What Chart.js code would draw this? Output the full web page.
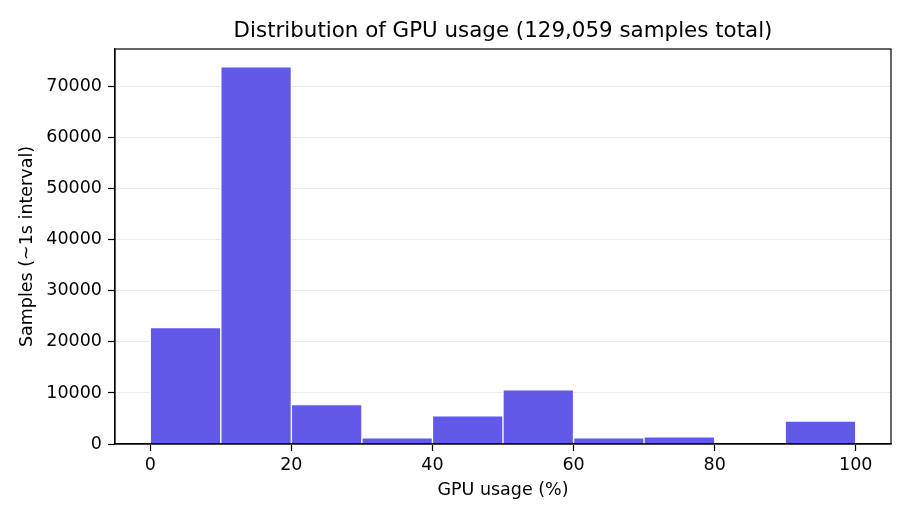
<!DOCTYPE html>
<html>
<head>
<meta charset="utf-8">
<script src="https://cdn.jsdelivr.net/npm/chart.js@4.4.1/dist/chart.umd.min.js"></script>
<style>
  html, body { margin: 0; padding: 0; background: #fff; }
  #wrap { width: 910px; height: 520px; position: relative; }
</style>
</head>
<body>
<div id="wrap"><canvas id="gpuChart"></canvas></div>
<script>
// Histogram data (bin centers, 10% wide bins)
const binCenters = [5, 15, 25, 35, 45, 55, 65, 75, 85, 95];
const sampleCounts = [22800, 73900, 7700, 1200, 5500, 10600, 1200, 1400, 0, 4500];
const yTickValues = [0, 10000, 20000, 30000, 40000, 50000, 60000, 70000];
const xTickValues = [0, 20, 40, 60, 80, 100];
const titleText = 'Distribution of GPU usage (129,059 samples total)';

const font = 'DejaVu Sans';
const labelSize = 17.5;

// draw frame around plot area + the title centred over the axes
const frameAndTitle = {
  id: 'frameAndTitle',
  afterDraw(chart) {
    const { ctx, chartArea } = chart;
    ctx.save();
    ctx.strokeStyle = '#000';
    ctx.lineWidth = 1.2;
    ctx.strokeRect(chartArea.left, chartArea.top, chartArea.right - chartArea.left, chartArea.bottom - chartArea.top);
    ctx.fillStyle = '#000';
    ctx.font = '21.4px "' + font + '"';
    ctx.textAlign = 'center';
    ctx.textBaseline = 'middle';
    ctx.fillText(titleText, (chartArea.left + chartArea.right) / 2, 31.5);
    ctx.restore();
  }
};

const ctx = document.getElementById('gpuChart').getContext('2d');
const gpuChart = new Chart(ctx, {
  type: 'bar',
  data: {
    datasets: [{
      data: binCenters.map((x, i) => ({ x: x, y: sampleCounts[i] })),
      backgroundColor: '#6159e8',
      borderColor: '#ffffff',
      borderWidth: 1,
      barPercentage: 1,
      categoryPercentage: 1,
    }]
  },
  options: {
    responsive: true,
    maintainAspectRatio: false,
    animation: false,
    layout: { padding: { top: 49, right: 19, left: 0, bottom: 0 } },
    plugins: {
      legend: { display: false },
      title: { display: false },
      tooltip: { enabled: false },
    },
    scales: {
      x: {
        type: 'linear',
        offset: false,
        min: -5,
        max: 105,
        afterBuildTicks: (scale) => { scale.ticks = xTickValues.map(v => ({ value: v })); },
        afterFit: (scale) => { scale.height = 76; },
        grid: { offset: false, drawOnChartArea: false, tickColor: '#000', tickLength: 7, tickWidth: 1.2 },
        border: { color: '#000', width: 1.2 },
        ticks: { color: '#000', font: { family: font, size: labelSize }, padding: 4, maxRotation: 0, callback: v => String(v) },
        title: { display: true, text: 'GPU usage (%)', color: '#000', font: { family: font, size: labelSize }, padding: { top: 0, bottom: 19 } },
      },
      y: {
        min: 0,
        max: 77400,
        afterBuildTicks: (scale) => { scale.ticks = yTickValues.map(v => ({ value: v })); },
        afterFit: (scale) => { scale.width = 115; },
        grid: { color: '#ebebeb', lineWidth: 1, tickColor: '#000', tickLength: 7, tickWidth: 1.2 },
        border: { color: '#000', width: 1.2 },
        ticks: { color: '#000', font: { family: font, size: labelSize }, padding: 6, callback: v => String(v) },
        title: { display: true, text: 'Samples (~1s interval)', color: '#000', font: { family: font, size: labelSize }, padding: { top: 17, bottom: 0 } },
      }
    }
  },
  plugins: [frameAndTitle]
});
</script>
</body>
</html>
